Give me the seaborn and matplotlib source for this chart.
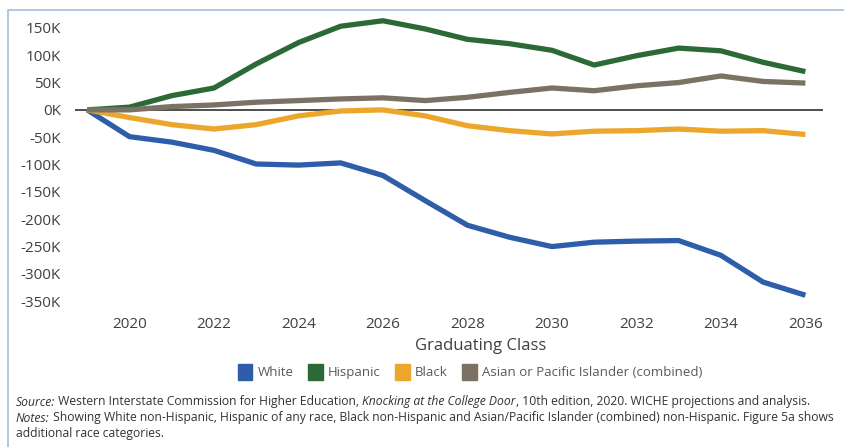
import pandas as pd
import seaborn as sns
import matplotlib.pyplot as plt
from matplotlib.patches import Patch, Rectangle
from matplotlib.ticker import FuncFormatter

# Change in high school graduates vs. class of 2019 (thousands)
years = list(range(2019, 2037))
white = [0, -49, -59, -74, -99, -101, -97, -120, -166, -211, -233, -250, -242, -240, -239, -266, -315, -339]
hispanic = [0, 5, 26, 40, 84, 123, 153, 163, 148, 129, 121, 109, 82, 99, 113, 108, 87, 70]
black = [0, -14, -27, -35, -27, -11, -2, 0, -11, -29, -38, -44, -39, -38, -35, -39, -38, -45]
asian = [0, 0, 6, 9, 14, 17, 20, 22, 17, 23, 32, 40, 35, 44, 50, 62, 52, 49]

groups = ["White", "Hispanic", "Black", "Asian or Pacific Islander (combined)"]
colors = ["#2E5EAA", "#2B6A37", "#EBA62B", "#7B7265"]
x_ticks = list(range(2020, 2037, 2))
y_ticks = list(range(-350, 151, 50))

df = pd.DataFrame({"year": years * 4,
                   "change": white + hispanic + black + asian,
                   "group": [g for g in groups for _ in years]})

sns.set_style("white")
plt.rcParams["font.family"] = ["Open Sans", "DejaVu Sans"]

fig = plt.figure(figsize=(8.44, 4.47), dpi=100)
ax = fig.add_axes([75 / 844, 1 - 310 / 447, 747.7 / 844, 298 / 447])

ax.axhline(0, color="#404040", lw=1.3, zorder=1)
sns.lineplot(data=df, x="year", y="change", hue="group", hue_order=groups,
             palette=dict(zip(groups, colors)), linewidth=3.8, legend=False,
             ax=ax, zorder=3)
for ln in ax.lines:
    ln.set_solid_capstyle("butt")
    ln.set_solid_joinstyle("round")

ax.set_xlim(2018.71, 2036.41)
ax.set_ylim(-366, 179)
ax.set_xticks(x_ticks)
ax.set_yticks(y_ticks)
ax.yaxis.set_major_formatter(FuncFormatter(lambda v, p: f"{v:.0f}K"))
ax.tick_params(axis="both", length=0, labelsize=11, labelcolor="#404040")
ax.tick_params(axis="y", pad=10)
ax.tick_params(axis="x", pad=5)
for s in ax.spines.values():
    s.set_visible(False)
ax.set_ylabel("")
ax.set_xlabel("Graduating Class", fontsize=12, color="#404040")
ax.xaxis.set_label_coords((481 - 75) / 747.7, -(345 - 310) / 298 - 0.005)
ax.xaxis.label.set_va("center")

handles = [Patch(facecolor=c, edgecolor=c, label=g) for g, c in zip(groups, colors)]
fig.legend(handles=handles, loc="center", ncol=4, frameon=False,
           bbox_to_anchor=(470 / 844, 1 - 372 / 447), fontsize=9.5,
           handlelength=1.1, handleheight=1.6, handletextpad=0.4,
           columnspacing=1.1, labelcolor="#595959")

# frame around the chart
fig.patches.append(Rectangle((8 / 844, -0.1), 1.2, 1 - 10 / 447 + 0.1,
                             transform=fig.transFigure, fill=False,
                             edgecolor="#A8BCDC", lw=1.2))

# footer, with italic pieces chained one after another
fs = 8.7
fc = "#333333"
footer = [
    ([("Source:", "italic"), (" Western Interstate Commission for Higher Education, ", "normal"),
      ("Knocking at the College Door", "italic"),
      (", 10th edition, 2020. WICHE projections and analysis.", "normal")], 402),
    ([("Notes:", "italic"), (" Showing White non-Hispanic, Hispanic of any race, Black non-Hispanic "
      "and Asian/Pacific Islander (combined) non-Hispanic. Figure 5a shows", "normal")], 418),
    ([("additional race categories.", "normal")], 433),
]
for parts, ypx in footer:
    prev = None
    for txt, style in parts:
        if prev is None:
            prev = fig.text(16 / 844, 1 - ypx / 447, txt, fontsize=fs, color=fc,
                            style=style, va="center", ha="left")
        else:
            prev = ax.annotate(txt, xy=(1, 0), xycoords=prev, va="bottom", ha="left",
                               fontsize=fs, color=fc, style=style,
                               annotation_clip=False)

fig.savefig("out.png", dpi=100)
